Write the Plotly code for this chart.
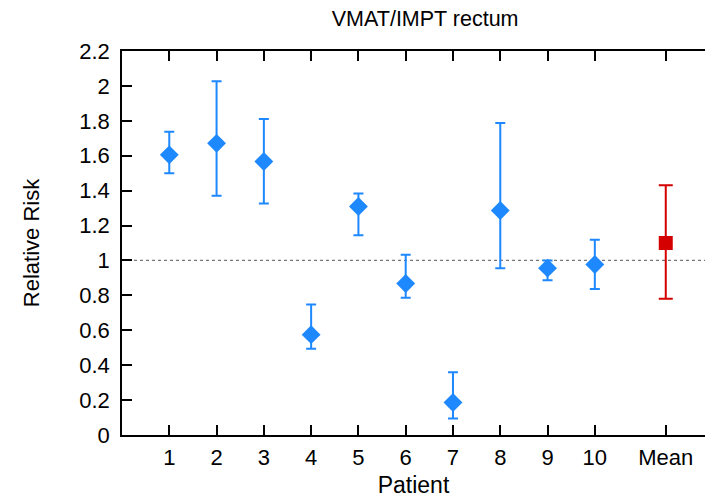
import plotly.graph_objects as go

# Relative risk per patient (VMAT vs IMPT, rectum) with confidence bounds
patients = ["1", "2", "3", "4", "5", "6", "7", "8", "9", "10"]
patient_pos = [1, 2, 3, 4, 5, 6, 7, 8, 9, 10]
rr = [1.605, 1.671, 1.567, 0.575, 1.309, 0.868, 0.186, 1.286, 0.956, 0.977]
rr_upper = [1.737, 2.027, 1.810, 0.747, 1.383, 1.033, 0.360, 1.787, 1.000, 1.119]
rr_lower = [1.500, 1.370, 1.326, 0.494, 1.145, 0.786, 0.094, 0.956, 0.887, 0.837]

mean_label = "Mean"
mean_pos = 11.5
mean_rr = 1.100
mean_upper = 1.431
mean_lower = 0.780

y_ticks = [0, 0.2, 0.4, 0.6, 0.8, 1, 1.2, 1.4, 1.6, 1.8, 2, 2.2]
y_tick_text = ["0", "0.2", "0.4", "0.6", "0.8", "1", "1.2", "1.4", "1.6", "1.8", "2", "2.2"]

blue = "#1E88FF"
red = "#D40000"
font_family = "Liberation Sans, Arial, sans-serif"

fig = go.Figure()

fig.add_trace(go.Scatter(
    x=patient_pos, y=rr, mode="markers",
    marker=dict(symbol="diamond", size=14.5, color=blue),
    error_y=dict(type="data", symmetric=False,
                 array=[u - v for u, v in zip(rr_upper, rr)],
                 arrayminus=[v - l for v, l in zip(rr, rr_lower)],
                 color=blue, thickness=2, width=5),
    showlegend=False,
))

fig.add_trace(go.Scatter(
    x=[mean_pos], y=[mean_rr], mode="markers",
    marker=dict(symbol="square", size=14, color=red),
    error_y=dict(type="data", symmetric=False,
                 array=[mean_upper - mean_rr], arrayminus=[mean_rr - mean_lower],
                 color=red, thickness=2, width=7),
    showlegend=False,
))

# reference line at RR = 1
fig.add_shape(type="line", xref="paper", x0=0, x1=1, yref="y", y0=1, y1=1,
              line=dict(color="#777777", width=1.3, dash="dot"), layer="below")

fig.update_layout(
    width=705, height=498,
    margin=dict(l=122, r=0, t=51, b=63),
    paper_bgcolor="white", plot_bgcolor="white",
    font=dict(family=font_family, size=22, color="black"),
    title=dict(text="VMAT/IMPT rectum", xref="paper", x=0.52, xanchor="center",
               y=0.963, yanchor="middle", font=dict(size=21.5)),
)

fig.update_xaxes(
    range=[0, 12.33],
    tickmode="array",
    tickvals=patient_pos + [mean_pos],
    ticktext=patients + [mean_label],
    tickfont=dict(size=22),
    ticks="inside", ticklen=10, tickwidth=1.5, tickcolor="black",
    showline=True, linecolor="black", linewidth=1.5, mirror="ticks",
    showgrid=False, zeroline=False,
    ticklabelstandoff=2,
    title=dict(text="Patient", standoff=9, font=dict(size=23)),
)

fig.update_yaxes(
    range=[0, 2.2],
    tickmode="array", tickvals=y_ticks, ticktext=y_tick_text,
    tickfont=dict(size=22),
    ticks="inside", ticklen=10, tickwidth=1.5, tickcolor="black",
    showline=True, linecolor="black", linewidth=1.5,
    showgrid=False, zeroline=False,
    ticklabelstandoff=6,
    title=dict(text="Relative Risk", standoff=34, font=dict(size=22)),
)

fig.write_html("out.html")
